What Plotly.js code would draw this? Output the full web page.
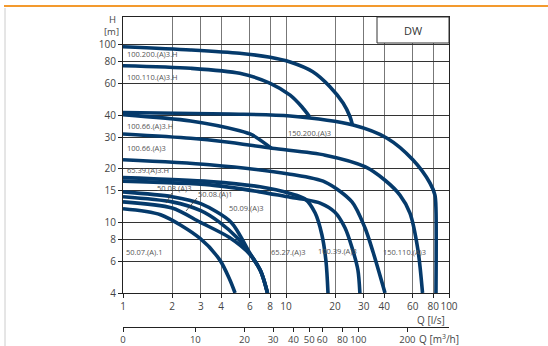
<!DOCTYPE html>
<html><head><meta charset="utf-8">
<script src="https://cdn.plot.ly/plotly-3.0.1.min.js"></script>
<style>html,body{margin:0;padding:0;background:#fff}#c{width:548px;height:346px}</style>
</head><body><div id="c"></div>
<script>
// ---- data (Q in l/s, H in m) ----
const Q_100_200_H = [1, 2.6, 5.2, 8, 10.6, 14.6, 18.6, 22.4, 24.7, 25.5];
const H_100_200_H = [96.8, 92.8, 88.9, 84.4, 79.4, 70, 57.7, 46.7, 39.1, 35.5];
const Q_100_110_H = [1, 2.6, 5.2, 8, 10.6, 12.5, 14];
const H_100_110_H = [75.7, 73.2, 68.6, 60.3, 51.7, 44.5, 39];
const Q_150_200 = [1, 4.5, 10.6, 25.8, 41.7, 60, 76.4, 82, 83.2, 83.2];
const H_150_200 = [41.3, 40.5, 39.5, 35.1, 29.6, 22.4, 16.6, 14.2, 11.7, 4];
const Q_100_66_H = [1, 2.6, 5.2, 6.2, 8.2];
const H_100_66_H = [40.2, 37, 32.6, 30.9, 25.9];
const Q_100_66 = [1, 2.6, 4.2, 8.2, 17.4, 30.5, 40.5, 50, 57.6, 64.5, 68.8];
const H_100_66 = [31.3, 29.6, 28.3, 26, 23.8, 20.5, 17.2, 14.2, 11.25, 6.97, 4];
const Q_65_39_H = [1, 3.4, 10.6, 17.4, 25.4, 30.5, 34.2, 40.5];
const H_65_39_H = [22.4, 21, 18.6, 16.8, 13, 9.3, 6.8, 4];
const Q_65_27 = [1, 3.42, 6.93, 10.6, 13.1, 15.1, 16.6, 17.6, 18.1];
const H_65_27 = [17.8, 16.9, 15.8, 14.5, 13.5, 11.25, 8.5, 6.0, 4];
const Q_100_39 = [1, 3.42, 6.93, 10.6, 13.1, 16.2, 19.9, 23.0, 25.4, 27.6, 28.4];
const H_100_39 = [17.0, 16.2, 14.8, 13.8, 13.4, 12.8, 11.4, 9.3, 7.2, 5.4, 4];
const Q_50_08_A3 = [1, 2, 3, 4.6, 6, 7, 7.7];
const H_50_08_A3 = [14.8, 13.9, 12.7, 10, 6.7, 5.3, 4];
const Q_50_08_A1 = [1, 2, 3, 3.9, 5, 6, 7, 7.7];
const H_50_08_A1 = [13.9, 13.0, 11.6, 10, 8.2, 6.65, 5.3, 4];
const Q_50_09_A3 = [1, 2, 2.97, 4.5, 6, 7, 7.7];
const H_50_09_A3 = [13.0, 12.0, 10, 8.2, 6.6, 5.3, 4];
const Q_50_07_A1 = [1, 1.7, 2.97, 3.94, 4.53, 4.87];
const H_50_07_A1 = [11.9, 11.0, 8.1, 6.1, 4.73, 4];

const xTicks = [1, 2, 3, 4, 6, 8, 10, 20, 30, 40, 60, 80, 100];
const yTicks = [4, 6, 8, 10, 15, 20, 30, 40, 60, 80, 100];
const m3hTicks = [0, 10, 20, 30, 40, 50, 60, 80, 100, 200];
const m3hPos = [1, 10/3.6, 20/3.6, 30/3.6, 40/3.6, 50/3.6, 60/3.6, 80/3.6, 100/3.6, 200/3.6];

const curves = [
  [Q_100_200_H, H_100_200_H, '100.200.(A)3.H'],
  [Q_100_110_H, H_100_110_H, '100.110.(A)3.H'],
  [Q_150_200, H_150_200, '150.200.(A)3'],
  [Q_100_66_H, H_100_66_H, '100.66.(A)3.H'],
  [Q_100_66, H_100_66, '100.66.(A)3'],
  [Q_65_39_H, H_65_39_H, '65.39.(A)3.H'],
  [Q_65_27, H_65_27, '65.27.(A)3'],
  [Q_100_39, H_100_39, '100.39.(A)3'],
  [Q_50_08_A3, H_50_08_A3, '50.08.(A)3'],
  [Q_50_08_A1, H_50_08_A1, '50.08.(A)1'],
  [Q_50_09_A3, H_50_09_A3, '50.09.(A)3'],
  [Q_50_07_A1, H_50_07_A1, '50.07.(A).1']
];
const blue = '#053a6b';
const traces = curves.map(c => ({
  x: c[0], y: c[1], name: c[2], type: 'scatter', mode: 'lines',
  line: {color: blue, width: 3.6, shape: 'spline', smoothing: 0.8},
  hoverinfo: 'name'
}));
traces.push({x: [1, 100], y: [4, 4], xaxis: 'x2', yaxis: 'y', mode: 'lines',
  line: {color: 'rgba(0,0,0,0)'}, hoverinfo: 'skip'});

// pixel -> paper helpers (plot area: x 123..449, y 17..327)
const PX = px => (px - 123) / 326;
const PY = py => (327 - py) / 310;
const font = 'Open Sans, sans-serif';
const lblFont = {family: font, size: 7.5, color: '#555'};
function lbl(t, px, py, anchor) {
  return {text: t, xref: 'paper', yref: 'paper', x: PX(px), y: PY(py),
    xanchor: anchor || 'left', yanchor: 'middle', showarrow: false, font: lblFont};
}
const annotations = [
  lbl('100.200.(A)3.H', 125, 54),
  lbl('100.110.(A)3.H', 125, 77),
  lbl('100.66.(A)3.H', 125, 126),
  lbl('100.66.(A)3', 125, 148),
  lbl('65.39.(A)3.H', 125, 170),
  lbl('150.200.(A)3', 286, 133),
  lbl('50.08.(A)3', 155, 188),
  lbl('50.08.(A)1', 196, 194),
  lbl('50.09.(A)3', 227, 208),
  lbl('50.07.(A).1', 124, 251.5),
  lbl('65.27.(A)3', 269, 251.5),
  lbl('100.39.(A)3', 316, 251),
  lbl('150.110.(A)3', 381, 251.5),
  {text: 'DW', xref: 'paper', yref: 'paper', x: PX(413), y: PY(30), xanchor: 'center', yanchor: 'middle',
    showarrow: false, font: {family: font, size: 11, color: '#333'}},
  {text: 'H', xref: 'paper', yref: 'paper', x: PX(112), y: PY(19), xanchor: 'center', yanchor: 'middle',
    showarrow: false, font: {family: font, size: 9.5, color: '#444'}},
  {text: '[m]', xref: 'paper', yref: 'paper', x: PX(111), y: PY(31), xanchor: 'center', yanchor: 'middle',
    showarrow: false, font: {family: font, size: 9.5, color: '#444'}},
  {text: 'Q [l/s]', xref: 'paper', yref: 'paper', x: PX(447), y: PY(320), xanchor: 'right', yanchor: 'middle',
    showarrow: false, font: {family: font, size: 10, color: '#444'}},
  {text: 'Q [m<sup>3</sup>/h]', xref: 'paper', yref: 'paper', x: PX(417), y: PY(339), xanchor: 'left', yanchor: 'middle',
    showarrow: false, font: {family: font, size: 10, color: '#444'}}
];
const shapes = [
  {type: 'line', xref: 'paper', yref: 'paper', x0: PX(4), x1: PX(548), y0: PY(6), y1: PY(6),
    line: {color: '#f39a2e', width: 2}},
  {type: 'line', xref: 'paper', yref: 'paper', x0: PX(5), x1: PX(5), y0: PY(8), y1: PY(346),
    line: {color: '#cccccc', width: 1}},
  {type: 'rect', xref: 'paper', yref: 'paper', x0: PX(377), x1: PX(449), y0: PY(43), y1: PY(17),
    fillcolor: '#fff', line: {color: '#333', width: 1}, layer: 'above'},
  {type: 'line', xref: 'paper', yref: 'paper', x0: PX(172), x1: PX(166), y0: PY(193), y1: PY(203),
    line: {color: '#333', width: 0.8}},
  {type: 'line', xref: 'paper', yref: 'paper', x0: PX(197), x1: PX(186), y0: PY(198), y1: PY(211),
    line: {color: '#333', width: 0.8}}
];
const tickFont = {family: font, size: 10, color: '#444'};
const layout = {
  width: 548, height: 346,
  margin: {l: 123, r: 99, t: 17, b: 19, pad: 0},
  paper_bgcolor: '#fff', plot_bgcolor: '#fff',
  showlegend: false,
  xaxis: {type: 'log', range: [0, 2], tickvals: xTicks, ticktext: xTicks.map(String), tickangle: 0,
    showgrid: true, gridcolor: '#777', gridwidth: 1, showline: true, linecolor: '#222', linewidth: 1,
    mirror: true, ticks: 'outside', ticklen: 4, tickcolor: '#222', tickfont: tickFont,
    zeroline: false, anchor: 'y', fixedrange: true},
  xaxis2: {type: 'log', range: [0, 2], overlaying: 'x', anchor: 'free', position: 0, side: 'bottom',
    tickvals: m3hPos, ticktext: m3hTicks.map(String), tickangle: 0, showgrid: false, showline: true,
    linecolor: '#222', linewidth: 1, ticks: 'outside', ticklen: 4, tickcolor: '#222',
    tickfont: {family: font, size: 9.5, color: '#444'}, zeroline: false},
  yaxis: {type: 'log', range: [Math.log10(4), Math.log10(4) + 276/178], domain: [34/310, 1],
    tickvals: yTicks, ticktext: yTicks.map(String), showgrid: true, gridcolor: '#333', gridwidth: 1,
    showline: true, linecolor: '#222', linewidth: 1, mirror: true, ticks: 'outside', ticklen: 4,
    tickcolor: '#222', tickfont: tickFont, zeroline: false},
  annotations: annotations,
  shapes: shapes
};
Plotly.newPlot('c', traces, layout, {displayModeBar: false, staticPlot: true});
</script></body></html>
